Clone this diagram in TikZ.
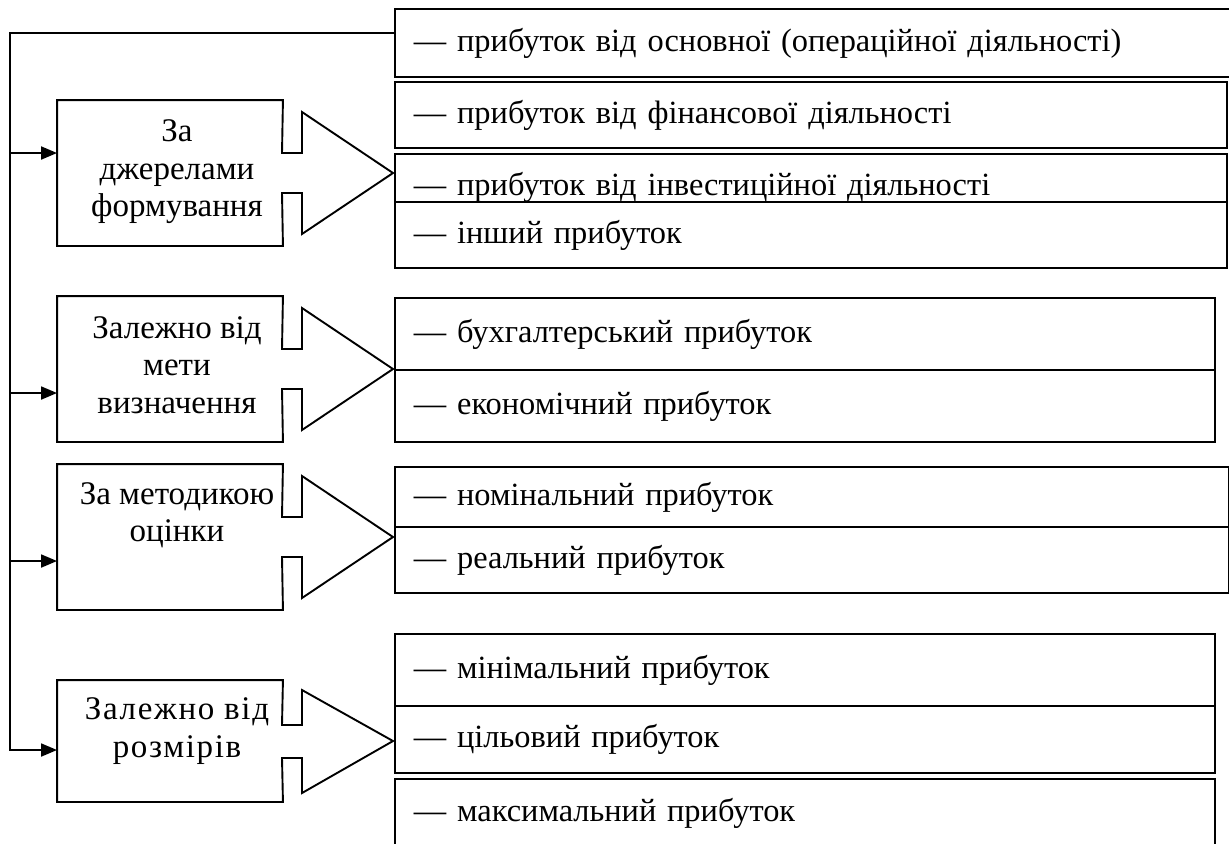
\documentclass[tikz,border=0pt]{standalone}
\usepackage{fontspec}
\setmainfont{Liberation Serif}
\usetikzlibrary{arrows.meta}
\begin{document}
\begin{tikzpicture}[x=0.5pt, y=-0.5pt, line width=0.95pt,
  cat/.style={inner sep=0pt, align=center, font=\fontsize{16.5}{18.7}\selectfont},
  catframe/.style={draw=none, inner sep=0pt, minimum width=112pt},
  item/.style={draw, fill=white, anchor=north west, inner xsep=9.5pt, inner ysep=0pt,
    align=left, font=\fontsize{16.2}{18.5}\selectfont},
  feed/.style={-{Triangle[length=8pt,width=6.5pt]}}
]
\useasboundingbox (0,0) rectangle (1229,843);

% ---- classification criteria: box with an outgoing block arrow ----
\node[catframe, minimum height=72pt] (f1) at (170,173) {};
\draw (f1.north west) -- (f1.north east) -- (282,153) -- (302,153) -- (302,112)
  -- (393,173) -- (302,234) -- (302,193) -- (282,193) -- (f1.south east)
  -- (f1.south west) -- cycle;
\node[cat] (t1) at (177,172) {За\\джерелами\\формування};

\node[catframe, minimum height=72pt] (f2) at (170,369) {};
\draw (f2.north west) -- (f2.north east) -- (282,349) -- (302,349) -- (302,308)
  -- (393,369) -- (302,430) -- (302,389) -- (282,389) -- (f2.south east)
  -- (f2.south west) -- cycle;
\node[cat] (t2) at (177,365) {Залежно від\\мети\\визначення};

\node[catframe, minimum height=72pt] (f3) at (170,537) {};
\draw (f3.north west) -- (f3.north east) -- (282,517) -- (302,517) -- (302,476)
  -- (393,537) -- (302,598) -- (302,557) -- (282,557) -- (f3.south east)
  -- (f3.south west) -- cycle;
\node[cat] (t3) at (177,515) {За методикою\\оцінки};

\node[catframe, minimum height=60pt] (f4) at (170,741) {};
\draw (f4.north west) -- (f4.north east) -- (282,725) -- (302,725) -- (302,690)
  -- (393,741) -- (302,793) -- (302,758) -- (282,758) -- (f4.south east)
  -- (f4.south west) -- cycle;
\node[cat] (t4) at (177,731) {\addfontfeature{LetterSpace=5}Залежно від\\\addfontfeature{LetterSpace=5}розмірів};

% ---- kinds of profit ----
\node[item, text width=404pt, minimum height=34pt] (a1) at (394,8)
  {— прибуток від основної (операційної діяльності)};
\node[item, text width=397pt, minimum height=33pt] (a2) at (394,81)
  {— прибуток від фінансової діяльності};
\node[item, text width=397pt, minimum height=33.5pt] (a3) at (394,153)
  {— прибуток від інвестиційної діяльності};
\node[item, text width=397pt, minimum height=33pt] (a4) at (394,201)
  {— інший прибуток};

\node[item, text width=391pt, minimum height=36pt] (b1) at (394,297)
  {— бухгалтерський прибуток};
\node[item, text width=391pt, minimum height=36pt] (b2) at (394,369)
  {— економічний прибуток};

\node[item, text width=398pt, minimum height=30pt] (c1) at (394,466)
  {— номінальний прибуток};
\node[item, text width=398pt, minimum height=33pt] (c2) at (394,526)
  {— реальний прибуток};

\node[item, text width=391pt, minimum height=36pt] (d1) at (394,633)
  {— мінімальний прибуток};
\node[item, text width=391pt, minimum height=33.5pt] (d2) at (394,705)
  {— цільовий прибуток};
\node[item, text width=391pt, minimum height=34pt] (d3) at (394,778)
  {— максимальний прибуток};

% ---- feedback line from the first kind back to every criterion ----
\coordinate (top) at (10,33);
\coordinate (s1) at (10,153);
\coordinate (s2) at (10,393);
\coordinate (s3) at (10,561);
\coordinate (s4) at (10,750);
\draw[feed] (top -| a1.west) -- (top) -- (s4) -- (s4 -| f4.west);
\draw[feed] (s1) -- (s1 -| f1.west);
\draw[feed] (s2) -- (s2 -| f2.west);
\draw[feed] (s3) -- (s3 -| f3.west);
\end{tikzpicture}
\end{document}
